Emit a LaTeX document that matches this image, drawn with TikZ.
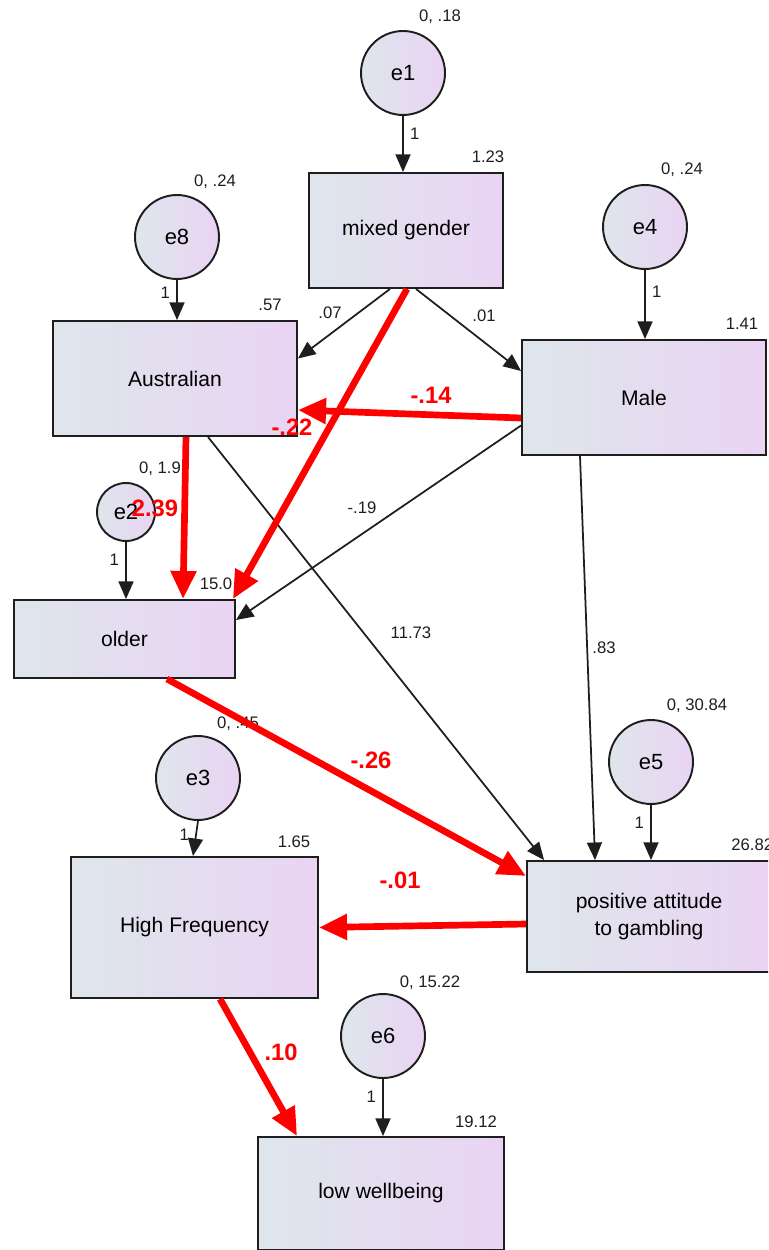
\documentclass[tikz,border=0pt]{standalone}
\usepackage{fontspec}
\setmainfont{Liberation Sans}
\usepackage{tikz}
\usetikzlibrary{arrows.meta}
\usetikzlibrary{calc}
\definecolor{boxl}{RGB}{222,230,236}
\definecolor{boxr}{RGB}{234,212,243}
\definecolor{pathred}{RGB}{255,0,0}
\definecolor{ink}{RGB}{30,30,30}

\begin{document}
\begin{tikzpicture}[x=0.02cm,y=-0.02cm,
  var/.style={draw=ink,line width=1.1pt,left color=boxl,right color=boxr,inner sep=0pt,align=center,font=\fontsize{12}{15}\selectfont},
  err/.style={circle,draw=ink,line width=1.1pt,left color=boxl,right color=boxr,minimum size=1.68cm,inner sep=0pt,font=\fontsize{12.5}{14}\selectfont},
  est/.style={text=ink,font=\fontsize{9.5}{11}\selectfont,inner sep=0pt},
  coef/.style={text=pathred,font=\bfseries\fontsize{13.5}{15}\selectfont,inner sep=0pt},
  path/.style={draw=ink,line width=1pt,-{Triangle[length=10pt,width=8.5pt]}},
  sig/.style={draw=pathred,line width=3.8pt,-{Triangle[length=16pt,width=14pt]}}]
  \clip (0,0) rectangle (768,1250);

  % observed variables
  \node[var,minimum width=3.88cm,minimum height=2.3cm] (mix) at (406,230.5) {mixed gender};
  \node[var,minimum width=4.88cm,minimum height=2.3cm] (aus) at (175,378.5) {Australian};
  \node[var,minimum width=4.88cm,minimum height=2.3cm] (male) at (644,397.5) {Male};
  \node[var,minimum width=4.42cm,minimum height=1.56cm] (older) at (124.5,639) {older};
  \node[var,minimum width=4.94cm,minimum height=2.82cm] (hf) at (194.5,927.5) {High Frequency};
  \node[var,minimum width=4.88cm,minimum height=2.22cm] (pos) at (649,916.5) {positive attitude\\to gambling};
  \node[var,minimum width=4.92cm,minimum height=2.26cm] (low) at (381,1193.5) {low wellbeing};

  % error terms
  \node[err] (e1) at (403,73) {e1};
  \node[err] (e8) at (177,237) {e8};
  \node[err] (e4) at (645,227) {e4};
  \node[err,minimum size=1.16cm] (e2) at (126,512) {e2};
  \node[err] (e3) at (198,778) {e3};
  \node[err] (e5) at (651,762) {e5};
  \node[err] (e6) at (383,1036) {e6};

  \foreach \e/\v/\s in {e1/mix/right,e8/aus/left,e4/male/right,e2/older/left,e5/pos/left,e6/low/left}
    \draw[path] (\e.south) -- (\e |- \v.north) node[est,pos=0.32,\s=3.5pt] (w\e) {1};
  \draw[path] (e3.south) -- ($(hf.north)+(-1.5,0)$) node[est,pos=0.4,left=3.5pt] (we3) {1};

  % variances and intercepts
  \node[est] (ve1) at (440,17) {0, .18};
  \node[est] (ve8) at (215,182) {0, .24};
  \node[est] (ve4) at (682,170) {0, .24};
  \node[est] (ve2) at (160,469) {0, 1.9};
  \node[est] (ve3) at (238,724) {0, .45};
  \node[est] (ve5) at (697,706) {0, 30.84};
  \node[est] (ve6) at (430,983) {0, 15.22};
  \node[est] (imix) at (488,157) {1.23};
  \node[est] (iaus) at (270,305) {.57};
  \node[est] (imale) at (742,324) {1.41};
  \node[est] (iolder) at (216,584) {15.0};
  \node[est] (ihf) at (294,842) {1.65};
  \node[est,anchor=west] (ipos) at (731,845) {26.82};
  \node[est] (ilow) at (476,1122) {19.12};

  % regression paths
  \draw[path] ($(mix.south)+(-16,0)$) -- ($(aus.east)+(0,-20)$);
  \draw[path] ($(mix.south)+(10,0)$) -- ($(male.west)+(0,-26.5)$);
  \draw[path] ($(male.west)+(0,28)$) -- ($(older.east)+(0,-19)$);
  \draw[path] ($(aus.south)+(33,0)$) -- ($(pos.north west)+(18,0)$);
  \draw[path] ($(male.south)+(-64,0)$) -- ($(pos.north west)+(69,0)$);
  \node[est] (b1) at (330,313) {.07};
  \node[est] (b2) at (484,316) {.01};
  \node[est] (b3) at (362,508) {-.19};
  \node[est] (b4) at (411,633) {11.73};
  \node[est] (b5) at (604,648) {.83};

  \draw[sig] ($(male.west)+(0,20.5)$) -- ($(aus.east)+(0,31.5)$);
  \draw[sig] ($(mix.south)+(1,0)$) -- ($(older.north east)+(-3,0)$);
  \draw[sig] ($(aus.south)+(11,0)$) -- ($(older.north)+(58.5,0)$);
  \draw[sig] ($(older.south)+(42.5,0)$) -- ($(pos.west)+(0,-40.5)$);
  \draw[sig] ($(pos.west)+(0,7.5)$) -- (hf.east);
  \draw[sig] ($(hf.south)+(25.5,0)$) -- ($(low.north west)+(40,0)$);
  \node[coef] (c1) at (431,395) {-.14};
  \node[coef] (c2) at (292,427) {-.22};
  \node[coef] (c3) at (155,508) {2.39};
  \node[coef] (c4) at (371,760) {-.26};
  \node[coef] (c5) at (400,880) {-.01};
  \node[coef] (c6) at (281,1052) {.10};
\end{tikzpicture}
\end{document}
